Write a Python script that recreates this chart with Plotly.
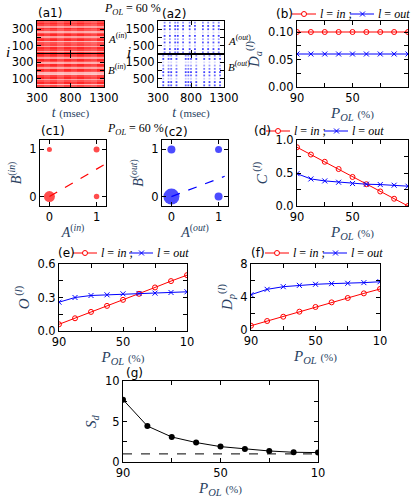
import plotly.graph_objects as go

W, H = 415, 498

# ---- data ----
p_ol = [90, 80, 70, 60, 50, 40, 30, 20, 10]

Da_in = [0.10, 0.10, 0.10, 0.10, 0.10, 0.10, 0.10, 0.10, 0.10]
Da_out = [0.06, 0.06, 0.06, 0.06, 0.06, 0.06, 0.06, 0.06, 0.06]
C_in = [0.89, 0.78, 0.67, 0.56, 0.44, 0.33, 0.22, 0.11, 0.00]
C_out = [0.49, 0.41, 0.38, 0.36, 0.34, 0.33, 0.325, 0.315, 0.30]
O_in = [0.06, 0.114, 0.171, 0.225, 0.279, 0.333, 0.39, 0.447, 0.50]
O_out = [0.258, 0.30, 0.318, 0.324, 0.333, 0.336, 0.339, 0.345, 0.351]
Dp_in = [0.52, 1.09, 1.61, 2.22, 2.79, 3.35, 3.88, 4.44, 4.97]
Dp_out = [4.28, 4.93, 5.25, 5.41, 5.54, 5.62, 5.66, 5.74, 5.85]
Sd = [7.7, 4.44, 3.09, 2.4, 1.9, 1.6, 1.36, 1.2, 1.16]
sd_ref = 1.0

# (c1), (c2): joint states (A, B) and dot diameters
state_A = [0, 0, 1, 1]
state_B = [0, 1, 1, 0]
c1_dot = [11, 5, 6, 5.5]
c2_dot = [16, 8, 7, 8]
c1_fit_x, c1_fit_y = [0, 1.15], [0, 0.67]
c2_fit_x, c2_fit_y = [0, 1.13], [0, 0.43]

# (a1) raster density: rows of 20 neurons (bottom -> top), columns of 100 msec
a1_rows_A = [0.8, 0.35, 0.75, 0.85, 0.4, 0.75, 0.7, 0.3, 0.85, 0.75,
             0.4, 0.85, 0.7, 0.35, 0.75, 0.85, 0.4, 0.75, 0.85, 0.7]
a1_rows_B = [0.75, 0.3, 0.85, 0.7, 0.4, 0.85, 0.75, 0.25, 0.3, 0.75,
             0.85, 0.4, 0.75, 0.85, 0.35, 0.7, 0.85, 0.4, 0.75, 0.85]
a1_cols = [1.0, 0.9, 1.0, 0.85, 1.0, 0.9, 1.0, 0.9, 0.85, 1.0]

# (a2) raster: burst times (msec) and firing share of neuron groups (groups of 200)
a2_burst_A = [400, 480, 560, 600, 680, 780, 860, 980, 1060, 1140, 1220]
a2_burst_B = [380, 460, 500, 580, 720, 760, 800, 880, 1000, 1080, 1160, 1240]
a2_rows_A = [0.7, 1.0, 0.3, 0.9, 0.5, 1.0, 0.2, 0.9, 1.0, 0.6]
a2_rows_B = [0.9, 1.0, 0.3, 0.8, 1.0, 0.7, 0.5, 0.2, 1.0, 0.6]

RED = "#ff0000"
BLUE = "#0000ff"
SERIF = "Liberation Serif"
SANS = "DejaVu Sans"


def xd(a, b):
    return [a / W, b / W]


def yd(a, b):
    return [1 - b / H, 1 - a / H]


def ax(**kw):
    d = dict(showline=True, linecolor="black", linewidth=1, mirror="ticks",
             ticks="inside", ticklen=4, tickcolor="black", showgrid=False,
             zeroline=False, tickfont=dict(family=SANS, size=11.5, color="black"))
    d.update(kw)
    return d


def name(kind, n):
    return kind if n == 1 else f"{kind}{n}"


layout = dict(width=W, height=H,
              margin=dict(l=0, r=0, t=0, b=0, autoexpand=False),
              paper_bgcolor="white", plot_bgcolor="white", showlegend=False)
traces = []


def add_axes(n, xdom, ydom, xa, ya):
    layout[name("xaxis", n)] = ax(domain=xdom, anchor=name("y", n), **xa)
    layout[name("yaxis", n)] = ax(domain=ydom, anchor=name("x", n), **ya)


pol_ticks = dict(range=[90, 10], tickvals=[90, 70, 50, 30, 10],
                 ticktext=["90", "", "50", "", "10"])
pol_title = dict(text="<i>P</i><sub><i>OL</i></sub> <span style='font-size:11px'>(%)</span>",
                 font=dict(family=SERIF, size=15), standoff=2)

# ---- (a1) and (a2) rasters ----
t_edges = dict(range=[300, 1300], tickvals=[300, 800, 1300])
a1_t = [350 + 100 * k for k in range(len(a1_cols))]
a1_i = [10 + 20 * k for k in range(len(a1_rows_A))]
a2_i = [100 + 200 * k for k in range(len(a2_rows_A))]

panels = [
    (1, a1_rows_A, None, True), (2, a1_rows_B, None, False),
    (3, a2_rows_A, a2_burst_A, True), (4, a2_rows_B, a2_burst_B, False),
]
for n, rows, bursts, top in panels:
    if bursts is None:
        z = [[r * c for c in a1_cols] for r in rows]
        traces.append(go.Heatmap(x=a1_t, y=a1_i, z=z, zmin=0, zmax=1,
                                 colorscale=[[0, "white"], [1, RED]],
                                 showscale=False, hoverinfo="skip",
                                 xaxis=name("x", n), yaxis=name("y", n)))
        ymax, yt, ytt = 400, [100, 200, 300], ["100", "", "300"]
        x0, x1 = 37, 104
    else:
        bx = [b for b in bursts for _ in a2_i]
        by = [i for _ in bursts for i in a2_i]
        shade = [f"rgba(0,0,255,{0.75 * r:.2f})" for _ in bursts for r in rows]
        traces.append(go.Scatter(x=bx, y=by, mode="markers", hoverinfo="skip",
                                 marker=dict(symbol="square", size=1.8, color=shade),
                                 xaxis=name("x", n), yaxis=name("y", n)))
        ymax, yt, ytt = 2000, [500, 1000, 1500], ["500", "", "1500"]
        x0, x1 = 158, 224
    yr = (21, 54) if top else (54, 87)
    xa = dict(t_edges, showticklabels=not top)
    if not top:
        xa["title"] = dict(text="<i>t</i> <span style='font-size:11px'>(msec)</span>",
                           font=dict(family=SERIF, size=14), standoff=2)
    add_axes(n, xd(x0, x1), yd(*yr), xa,
             dict(range=[0, ymax], tickvals=yt, ticktext=ytt))

# ---- (b), (d), (e), (f) ----
line_panels = [
    (5, (297, 408), (21, 87), Da_in, Da_out,
     dict(range=[0, 0.12], tickvals=[0, 0.025, 0.05, 0.075, 0.1],
          ticktext=["0.00", "", "0.05", "", "0.10"]),
     "<i>D</i><sub><i>a</i></sub><sup>(<i>l</i>)</sup>"),
    (8, (297, 408), (140, 206), C_in, C_out,
     dict(range=[0, 1], tickvals=[0, 0.25, 0.5, 0.75, 1],
          ticktext=["0.0", "", "0.5", "", "1.0"]),
     "<i>C</i><sup> (<i>l</i>)</sup>"),
    (9, (59, 187), (264, 331), O_in, O_out,
     dict(range=[0, 0.6], tickvals=[0, 0.15, 0.3, 0.45, 0.6],
          ticktext=["0.0", "", "0.3", "", "0.6"]),
     "<i>O</i><sup> (<i>l</i>)</sup>"),
    (10, (251, 380), (264, 330), Dp_in, Dp_out,
     dict(range=[0, 8], tickvals=[0, 2, 4, 6, 8], ticktext=["0", "", "4", "", "8"]),
     "<i>D</i><sub><i>p</i></sub><sup>(<i>l</i>)</sup>"),
]
red_marker = dict(symbol="circle-open", size=5, color=RED, line=dict(width=1, color=RED))
blue_marker = dict(symbol="x-thin-open", size=5, color=BLUE, line=dict(width=1, color=BLUE))
for n, xr, yr, yin, yout, ya, ytitle in line_panels:
    traces.append(go.Scatter(x=p_ol, y=yin, mode="lines+markers",
                             line=dict(color=RED, width=1), marker=red_marker,
                             xaxis=name("x", n), yaxis=name("y", n)))
    traces.append(go.Scatter(x=p_ol, y=yout, mode="lines+markers",
                             line=dict(color=BLUE, width=1), marker=blue_marker,
                             xaxis=name("x", n), yaxis=name("y", n)))
    ya = dict(ya, title=dict(text=ytitle, font=dict(family=SERIF, size=15), standoff=4))
    add_axes(n, xd(*xr), yd(*yr), dict(pol_ticks, title=pol_title), ya)

# ---- (c1), (c2) ----
for n, xr, dots, fx, fy, col, lab in [
        (6, (40, 106), c1_dot, c1_fit_x, c1_fit_y, RED, "in"),
        (7, (162, 228), c2_dot, c2_fit_x, c2_fit_y, BLUE, "out")]:
    traces.append(go.Scatter(x=fx, y=fy, mode="lines",
                             line=dict(color=col, width=1.2, dash="dash"),
                             xaxis=name("x", n), yaxis=name("y", n)))
    traces.append(go.Scatter(x=state_A, y=state_B, mode="markers",
                             marker=dict(size=dots, color=col, line=dict(width=0)),
                             xaxis=name("x", n), yaxis=name("y", n)))
    cax = dict(range=[-0.2, 1.2], tickvals=[0, 1])
    add_axes(n, xd(*xr), yd(140, 206),
             dict(cax, title=dict(text=f"<i>A</i><sup>(<i>{lab}</i>)</sup>",
                                  font=dict(family=SERIF, size=14), standoff=4)),
             dict(cax, title=dict(text=f"<i>B</i><sup>(<i>{lab}</i>)</sup>",
                                  font=dict(family=SERIF, size=14), standoff=4)))

# ---- (g) ----
traces.append(go.Scatter(x=p_ol, y=Sd, mode="lines+markers",
                         line=dict(color="black", width=1),
                         marker=dict(symbol="circle", size=6, color="black"),
                         xaxis="x11", yaxis="y11"))
traces.append(go.Scatter(x=[p_ol[0], p_ol[-1]], y=[sd_ref, sd_ref], mode="lines",
                         line=dict(color="black", width=1, dash="dash"),
                         xaxis="x11", yaxis="y11"))
add_axes(11, xd(123, 318), yd(381, 462), dict(pol_ticks, title=pol_title),
         dict(range=[0, 10], tickvals=[0, 2.5, 5, 7.5, 10], ticktext=["0", "", "5", "", "10"],
              title=dict(text="<i>S</i><sub><i>d</i></sub>", font=dict(family=SERIF, size=15),
                         standoff=4)))

# ---- key samples above (b), (d), (e), (f), drawn as shapes ----
annotations = []
shapes = []


def ann(px, py, text, size=12, family=SANS, xanchor="left"):
    annotations.append(dict(x=px / W, y=1 - py / H, xref="paper", yref="paper",
                            text=text, showarrow=False, xanchor=xanchor, yanchor="middle",
                            font=dict(family=family, size=size, color="black")))


def seg(xa, ya, xb, yb, col):
    shapes.append(dict(type="line", xref="paper", yref="paper",
                       x0=xa / W, y0=1 - ya / H, x1=xb / W, y1=1 - yb / H,
                       line=dict(color=col, width=1)))


def key(x0, y0, gap=58):
    seg(x0, y0, x0 + 24, y0, RED)
    c = x0 + 12
    shapes.append(dict(type="circle", xref="paper", yref="paper",
                       x0=(c - 2.5) / W, x1=(c + 2.5) / W,
                       y0=1 - (y0 + 2.5) / H, y1=1 - (y0 - 2.5) / H,
                       line=dict(color=RED, width=1), fillcolor="white"))
    b = x0 + gap
    seg(b, y0, b + 24, y0, BLUE)
    seg(b + 10, y0 - 2.5, b + 15, y0 + 2.5, BLUE)
    seg(b + 10, y0 + 2.5, b + 15, y0 - 2.5, BLUE)
    ann(x0 + 26, y0, "<i>l</i> = <i>in</i> ;", size=12, family=SERIF)
    ann(b + 26, y0, "<i>l</i> = <i>out</i>", size=12, family=SERIF)


key(292, 14)
key(266, 131)
key(73, 253, gap=56)
key(265, 253)

# ---- text ----
for lab, px, py in [("(a1)", 36, 13), ("(a2)", 160, 14), ("(b)", 274, 14),
                    ("(c1)", 39, 131), ("(c2)", 162, 132), ("(d)", 252, 131),
                    ("(e)", 56, 253), ("(f)", 249, 253), ("(g)", 124, 373)]:
    ann(px, py, lab, size=12)

pol60 = "<i>P</i><sub><i>OL</i></sub> = 60 %"
ann(102, 9, pol60, size=12, family=SERIF)
ann(105, 129, pol60, size=12, family=SERIF)
ann(8, 52, "<i>i</i>", size=15, family=SERIF, xanchor="center")
ann(129, 52, "<i>i</i>", size=15, family=SERIF, xanchor="center")
ann(106, 38, "<i>A</i><sup>(<i>in</i>)</sup>", size=11, family=SERIF)
ann(106, 69, "<i>B</i><sup>(<i>in</i>)</sup>", size=11, family=SERIF)
ann(226, 40, "<i>A</i><sup>(<i>out</i>)</sup>", size=11, family=SERIF)
ann(226, 66, "<i>B</i><sup>(<i>out</i>)</sup>", size=11, family=SERIF)
layout["annotations"] = annotations
layout["shapes"] = shapes

fig = go.Figure(data=traces, layout=layout)
fig.write_html("out.html", config={"displayModeBar": False},
               post_script="document.body.style.margin='0';")
